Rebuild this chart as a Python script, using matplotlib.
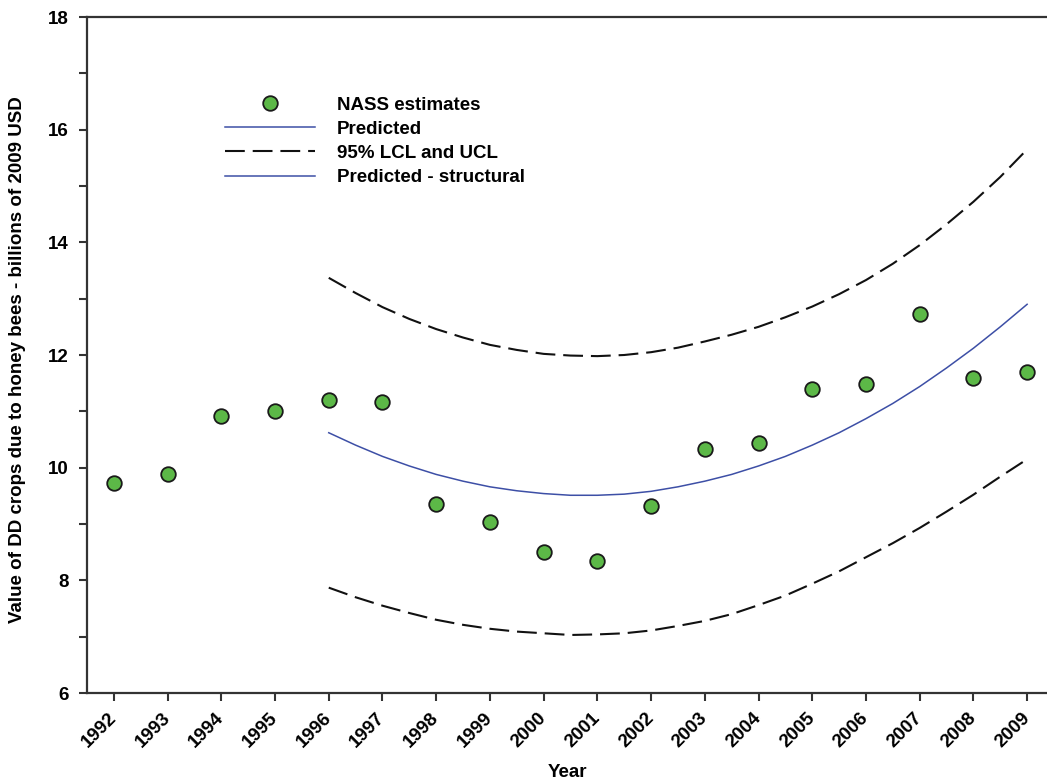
import matplotlib.pyplot as plt
from matplotlib.lines import Line2D

# NASS estimates of the value of DD crops attributable to honey bees
years = [1992, 1993, 1994, 1995, 1996, 1997, 1998, 1999, 2000,
         2001, 2002, 2003, 2004, 2005, 2006, 2007, 2008, 2009]
nass = [9.73, 9.88, 10.91, 11.01, 11.21, 11.17, 9.35, 9.04, 8.51,
        8.35, 9.32, 10.34, 10.43, 11.39, 11.48, 12.72, 11.60, 11.69]

# model fit (1996 onwards, half-year steps) and its 95% confidence limits
fit_years = [1996, 1996.5, 1997, 1997.5, 1998, 1998.5, 1999, 1999.5, 2000,
             2000.5, 2001, 2001.5, 2002, 2002.5, 2003, 2003.5, 2004, 2004.5,
             2005, 2005.5, 2006, 2006.5, 2007, 2007.5, 2008, 2008.5, 2009]
predicted = [10.62, 10.40, 10.20, 10.03, 9.88, 9.76, 9.66, 9.59, 9.54,
             9.51, 9.51, 9.53, 9.58, 9.66, 9.76, 9.88, 10.03, 10.20,
             10.40, 10.62, 10.87, 11.14, 11.44, 11.77, 12.12, 12.50, 12.90]
ucl = [13.37, 13.10, 12.85, 12.64, 12.46, 12.31, 12.18, 12.09, 12.02,
       11.99, 11.98, 12.00, 12.05, 12.13, 12.24, 12.36, 12.50, 12.67,
       12.86, 13.08, 13.33, 13.62, 13.95, 14.32, 14.72, 15.16, 15.65]
lcl = [7.87, 7.70, 7.55, 7.42, 7.30, 7.21, 7.14, 7.09, 7.06,
       7.03, 7.04, 7.06, 7.11, 7.19, 7.28, 7.40, 7.56, 7.73,
       7.94, 8.16, 8.41, 8.66, 8.93, 9.22, 9.52, 9.84, 10.15]

plt.rcParams['font.family'] = ['Liberation Sans', 'DejaVu Sans']
plt.rcParams['font.weight'] = 'bold'
fs = 13.5

fig = plt.figure(figsize=(10.47, 7.83), dpi=100)
ax = fig.add_axes([87 / 1047, 1 - 693 / 783, 1 - 87 / 1047, (693 - 17) / 783])

blue = '#3d4fa6'
dark = '#111111'
dash = (0, (9.5, 3.8))
dot_style = dict(linestyle='none', marker='o', markersize=10.5,
                 markerfacecolor='#5cb847', markeredgecolor='#1a1a1a',
                 markeredgewidth=1.3)

ax.plot(fit_years, ucl, color=dark, lw=1.5, linestyle=dash)
ax.plot(fit_years, lcl, color=dark, lw=1.5, linestyle=dash)
ax.plot(fit_years, predicted, color=blue, lw=1.1)
ax.plot(years, nass, zorder=5, **dot_style)

ax.set_xlim(1991.5, 2009.37)
ax.set_ylim(6, 18)
ax.set_xticks(years)
ax.set_xticklabels([str(y) for y in years], rotation=45, ha='right',
                   va='center', rotation_mode='anchor', fontsize=fs)
ax.set_yticks([6, 8, 10, 12, 14, 16, 18])
ax.set_yticks([7, 9, 11, 13, 15, 17], minor=True)
ax.tick_params(axis='y', which='both', direction='out', length=6, width=1.5,
               color='#333333', labelsize=fs, pad=7)
ax.tick_params(axis='x', direction='out', length=6, width=1.5,
               color='#333333', pad=10)

for side in ('left', 'bottom', 'top'):
    ax.spines[side].set_linewidth(1.6)
    ax.spines[side].set_color('#333333')
ax.spines['right'].set_visible(False)

ax.set_xlabel('Year', fontsize=fs, fontweight='bold', va='center')
ax.xaxis.set_label_coords(0.5, -0.117)
ax.set_ylabel('Value of DD crops due to honey bees - billions of 2009 USD',
              fontsize=fs, fontweight='bold', va='center')
ax.yaxis.set_label_coords(-0.072, 0.493)

handles = [
    Line2D([], [], **dot_style),
    Line2D([], [], color=blue, lw=1.1),
    Line2D([], [], color=dark, lw=1.5, linestyle=dash),
    Line2D([], [], color=blue, lw=1.1),
]
labels = ['NASS estimates', 'Predicted', '95% LCL and UCL', 'Predicted - structural']
leg = ax.legend(handles, labels, loc='upper left', bbox_to_anchor=(0.144, 0.882),
                frameon=False, fontsize=fs, handlelength=4.8, handletextpad=1.17,
                labelspacing=0.37, borderaxespad=0, borderpad=0)
for t in leg.get_texts():
    t.set_fontweight('bold')

fig.savefig('out.png', dpi=100)
